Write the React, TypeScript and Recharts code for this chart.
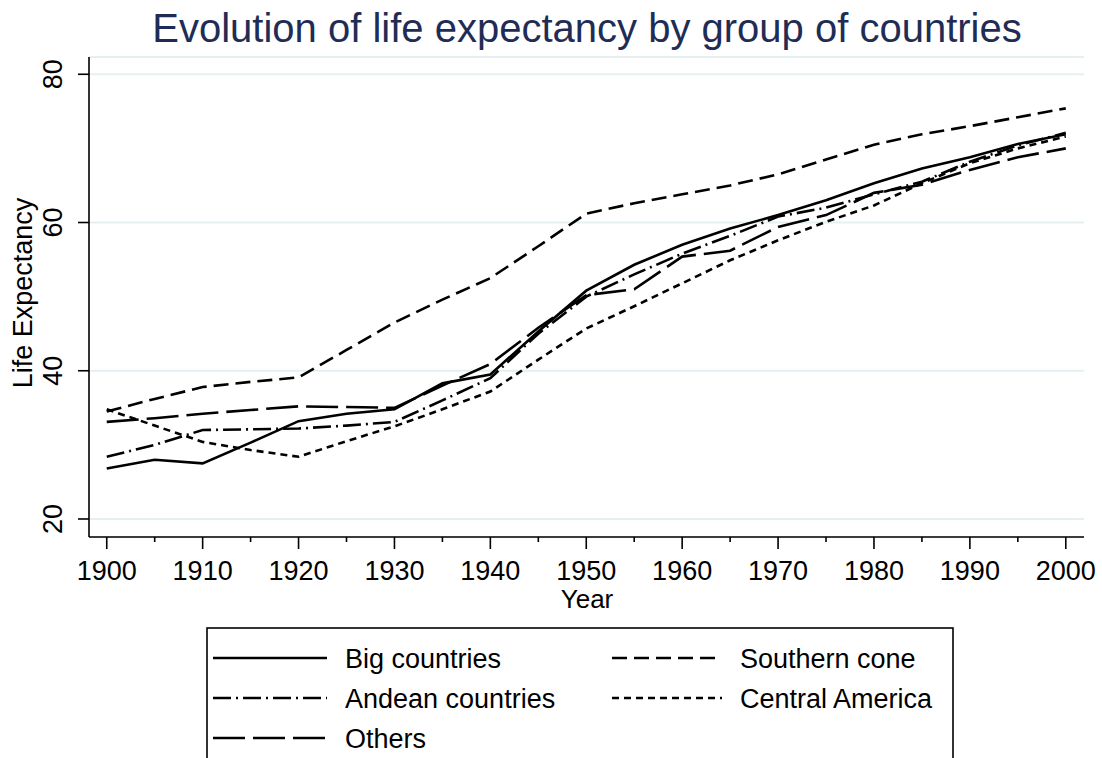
import React from "react";
import { LineChart, Line, XAxis, YAxis, CartesianGrid } from "recharts";

const years = [1900, 1905, 1910, 1915, 1920, 1925, 1930, 1935, 1940, 1945, 1950, 1955, 1960, 1965, 1970, 1975, 1980, 1985, 1990, 1995, 2000];

const bigCountries = [26.8, 28.0, 27.5, 30.3, 33.2, 34.2, 34.8, 38.3, 39.5, 45.3, 50.8, 54.3, 57.0, 59.2, 61.0, 63.0, 65.3, 67.3, 68.8, 70.6, 71.9];
const southernCone = [34.5, 36.2, 37.8, 38.5, 39.1, 42.8, 46.5, 49.6, 52.5, 56.8, 61.2, 62.6, 63.8, 65.0, 66.5, 68.5, 70.5, 71.9, 73.0, 74.2, 75.4];
const andean = [28.4, 30.0, 32.0, 32.1, 32.2, 32.6, 33.1, 36.0, 39.0, 45.0, 50.0, 53.0, 55.8, 58.2, 60.8, 62.0, 63.8, 65.5, 68.2, 70.4, 72.1];
const centralAmerica = [34.8, 32.6, 30.4, 29.3, 28.4, 30.5, 32.5, 34.8, 37.2, 41.5, 45.7, 48.7, 51.8, 54.9, 57.6, 60.1, 62.3, 65.3, 68.0, 70.0, 71.6];
const others = [33.1, 33.6, 34.2, 34.7, 35.2, 35.1, 35.0, 38.0, 40.9, 45.8, 50.2, 51.0, 55.4, 56.2, 59.4, 61.0, 64.0, 65.1, 67.1, 68.8, 70.0];

const xTicks = [1900, 1905, 1910, 1915, 1920, 1925, 1930, 1935, 1940, 1945, 1950, 1955, 1960, 1965, 1970, 1975, 1980, 1985, 1990, 1995, 2000];
const yTicks = [20, 40, 60, 80];

const series = [
  { key: "big", name: "Big countries", values: bigCountries, dash: undefined as string | undefined },
  { key: "southern", name: "Southern cone", values: southernCone, dash: "15 7" },
  { key: "andean", name: "Andean countries", values: andean, dash: "18 5 2 5" },
  { key: "central", name: "Central America", values: centralAmerica, dash: "7 5" },
  { key: "others", name: "Others", values: others, dash: "32 8" },
];

const data = years.map((year, i) => {
  const row: Record<string, number> = { year };
  series.forEach((s) => {
    row[s.key] = s.values[i];
  });
  return row;
});

const FONT = '"Liberation Sans", Arial, Helvetica, sans-serif';

const XTick = (props: any) => {
  const { x, y, payload } = props;
  const major = payload.value % 10 === 0;
  return (
    <g>
      <line x1={x} x2={x} y1={y} y2={y + (major ? 12 : 5)} stroke="#000" strokeWidth={1.6} />
      {major && (
        <text x={x} y={y + 43} textAnchor="middle" fontSize={27} fontFamily={FONT} fill="#000">
          {payload.value}
        </text>
      )}
    </g>
  );
};

const YTick = (props: any) => {
  const { x, y, payload } = props;
  const tx = x - 27;
  return (
    <g>
      <line x1={x} x2={x - 11} y1={y} y2={y} stroke="#000" strokeWidth={1.6} />
      <text x={tx} y={y} transform={`rotate(-90, ${tx}, ${y})`} textAnchor="middle" fontSize={27} fontFamily={FONT} fill="#000">
        {payload.value}
      </text>
    </g>
  );
};

const legendLayout = [
  { col: 0, row: 0 },
  { col: 1, row: 0 },
  { col: 0, row: 1 },
  { col: 1, row: 1 },
  { col: 0, row: 2 },
];

export default function App() {
  return (
    <div style={{ position: "absolute", left: 0, top: 0, width: 1102, height: 758, background: "#fff", overflow: "hidden" }}>
      <LineChart width={1102} height={758} data={data} margin={{ top: 57, right: 18, left: 29, bottom: 161 }}>
        <CartesianGrid vertical={false} stroke="#e6eff1" strokeWidth={2} />
        <XAxis
          dataKey="year"
          type="number"
          domain={[1898.15, 2001.9]}
          ticks={xTicks}
          interval={0}
          tick={<XTick />}
          tickLine={false}
          tickSize={0}
          tickMargin={0}
          axisLine={{ stroke: "#000", strokeWidth: 1.6 }}
          height={60}
        />
        <YAxis
          type="number"
          domain={[17.57, 82.33]}
          ticks={yTicks}
          interval={0}
          tick={<YTick />}
          tickLine={false}
          tickSize={0}
          tickMargin={0}
          axisLine={{ stroke: "#000", strokeWidth: 1.6 }}
          width={60}
          allowDataOverflow
        />
        {series.map((s) => (
          <Line
            key={s.key}
            type="linear"
            dataKey={s.key}
            name={s.name}
            stroke="#000"
            strokeWidth={2.6}
            strokeDasharray={s.dash}
            dot={false}
            isAnimationActive={false}
          />
        ))}
      </LineChart>
      <svg width={1102} height={758} style={{ position: "absolute", left: 0, top: 0, pointerEvents: "none" }}>
        <text x={587} y={42} textAnchor="middle" fontSize={40} fontFamily={FONT} fill="#1f2d56">
          Evolution of life expectancy by group of countries
        </text>
        <text x={32} y={293} transform="rotate(-90, 32, 293)" textAnchor="middle" fontSize={27} fontFamily={FONT} fill="#000">
          Life Expectancy
        </text>
        <text x={587} y={608} textAnchor="middle" fontSize={26} fontFamily={FONT} fill="#000">
          Year
        </text>
        <rect x={207} y={628} width={746} height={200} fill="none" stroke="#000" strokeWidth={1.6} />
        {series.map((s, i) => {
          const { col, row } = legendLayout[i];
          const lx = col === 0 ? 213 : 612;
          const lw = col === 0 ? 114 : 110;
          const tx = col === 0 ? 345 : 740;
          const cy = 658 + row * 40;
          return (
            <g key={s.key}>
              <line x1={lx} x2={lx + lw} y1={cy} y2={cy} stroke="#000" strokeWidth={2.6} strokeDasharray={s.dash} />
              <text x={tx} y={cy + 10} fontSize={27} fontFamily={FONT} fill="#000">
                {s.name}
              </text>
            </g>
          );
        })}
      </svg>
    </div>
  );
}
